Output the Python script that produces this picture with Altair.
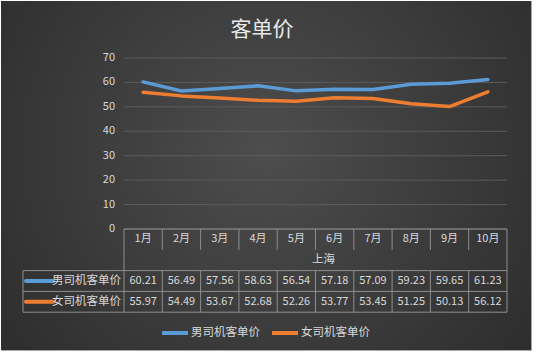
import altair as alt
import pandas as pd

# ---------------- data ----------------
title_text = "客单价"
region = "上海"
months = ["1月", "2月", "3月", "4月", "5月", "6月", "7月", "8月", "9月", "10月"]
series_names = ["男司机客单价", "女司机客单价"]
male = [60.21, 56.49, 57.56, 58.63, 56.54, 57.18, 57.09, 59.23, 59.65, 61.23]
female = [55.97, 54.49, 53.67, 52.68, 52.26, 53.77, 53.45, 51.25, 50.13, 56.12]
y_ticks = [0, 10, 20, 30, 40, 50, 60, 70]
colors = ["#5b9bd5", "#ed7d31"]

# ---------------- layout (pixels) ----------------
W, H = 530, 349
X0 = 123.0        # view x of the plot / table left edge
COL = 38.3        # width of one month column
LABEL_COL = 101.0 # width of the table's label column
Y0 = 228.0        # view y of value 0
PXU = 2.443       # pixels per value unit
ROW_PX = 20.8     # table row height

n = len(months)
x_dom = [-X0 / COL, (W - X0) / COL]
y_dom = [-(H - Y0) / PXU, Y0 / PXU]
row = ROW_PX / PXU
lab_left = -LABEL_COL / COL

FONT = "Noto Sans CJK SC"
TXT = "#d9d9d9"
BORDER = "#8e8e8e"

xs = alt.Scale(domain=x_dom, nice=False, zero=False)
ys = alt.Scale(domain=y_dom, nice=False, zero=False)
color_enc = alt.Color(
    "series:N",
    scale=alt.Scale(domain=series_names, range=colors),
    sort=series_names,
    legend=alt.Legend(
        title=None, orient="none", direction="horizontal",
        legendX=159, legendY=317, padding=0,
        symbolType="stroke", symbolSize=676, symbolStrokeWidth=4,
        labelFont=FONT, labelFontSize=11.5, labelColor=TXT,
        labelOffset=1, columnPadding=4, zindex=2,
    ),
)

# line data
rows = []
for s, vals in zip(series_names, [male, female]):
    for i, (m, v) in enumerate(zip(months, vals)):
        rows.append({"series": s, "month": m, "u": i + 0.5, "v": v})
lines_df = pd.DataFrame(rows)

# background panel spanning the scale domains
bg_df = pd.DataFrame({"u1": [x_dom[0]], "u2": [x_dom[1]], "v1": [y_dom[0]], "v2": [y_dom[1]]})

# gridlines and their labels
grid_df = pd.DataFrame({"v": y_ticks, "u1": 0, "u2": n, "t": [str(t) for t in y_ticks]})

# table borders
seg = []
seg.append({"u1": 0, "u2": n, "v1": 0, "v2": 0})
for k in (2, 3, 4):
    seg.append({"u1": lab_left, "u2": n, "v1": -k * row, "v2": -k * row})
seg.append({"u1": 0, "u2": 0, "v1": 0, "v2": -4 * row})
seg.append({"u1": n, "u2": n, "v1": 0, "v2": -4 * row})
seg.append({"u1": lab_left, "u2": lab_left, "v1": -2 * row, "v2": -4 * row})
for k in range(1, n):
    seg.append({"u1": k, "u2": k, "v1": 0, "v2": -row})
    seg.append({"u1": k, "u2": k, "v1": -2 * row, "v2": -4 * row})
seg_df = pd.DataFrame(seg)

# table texts
cells = []
for i, m in enumerate(months):
    cells.append({"u": i + 0.5, "v": -0.5 * row, "t": m})
for j, vals in enumerate([male, female]):
    for i, v in enumerate(vals):
        cells.append({"u": i + 0.5, "v": -(2.5 + j) * row, "t": f"{v:.2f}"})
cells_df = pd.DataFrame(cells)
region_df = pd.DataFrame({"u": [n / 2], "v": [-1.5 * row], "t": [region]})
lab_df = pd.DataFrame({
    "series": series_names,
    "u": [-0.08, -0.08],
    "v": [-2.5 * row, -3.5 * row],
    "s1": [-2.56, -2.56],
    "s2": [-1.85, -1.85],
})

base_x = dict(scale=xs, axis=None)

bg = alt.Chart(bg_df).mark_rect(
    color=alt.RadialGradient(
        gradient="radial", x1=0.5, y1=0.45, r1=0, x2=0.5, y2=0.45, r2=0.75,
        stops=[alt.GradientStop(offset=0, color="#4d4d4d"),
               alt.GradientStop(offset=1, color="#272727")],
    )
).encode(
    x=alt.X("u1:Q", **base_x), x2="u2:Q",
    y=alt.Y("v1:Q", scale=ys, axis=None), y2="v2:Q",
)

grid = alt.Chart(grid_df).mark_rule(color="#5c5c5c", strokeWidth=1).encode(
    x=alt.X("u1:Q", **base_x), x2="u2:Q",
    y=alt.Y("v:Q", scale=ys, axis=None),
)

grid_labels = alt.Chart(grid_df).mark_text(
    font=FONT, fontSize=11, color=TXT, align="right", baseline="middle", dx=-9
).encode(
    x=alt.X("u1:Q", **base_x),
    y=alt.Y("v:Q", scale=ys, axis=None),
    text="t:N",
)

table = alt.Chart(seg_df).mark_rule(color=BORDER, strokeWidth=1).encode(
    x=alt.X("u1:Q", **base_x), x2="u2:Q",
    y=alt.Y("v1:Q", scale=ys, axis=None), y2="v2:Q",
)

cell_text = alt.Chart(cells_df).mark_text(
    font=FONT, fontSize=11, color=TXT, align="center", baseline="middle"
).encode(x=alt.X("u:Q", **base_x), y=alt.Y("v:Q", scale=ys, axis=None), text="t:N")

region_text = alt.Chart(region_df).mark_text(
    font=FONT, fontSize=11.5, color=TXT, align="center", baseline="middle", dx=8
).encode(x=alt.X("u:Q", **base_x), y=alt.Y("v:Q", scale=ys, axis=None), text="t:N")

lab_sym = alt.Chart(lab_df).mark_rule(strokeWidth=4, strokeCap="round").encode(
    x=alt.X("s1:Q", **base_x), x2="s2:Q",
    y=alt.Y("v:Q", scale=ys, axis=None), color=color_enc,
)
lab_text = alt.Chart(lab_df).mark_text(
    font=FONT, fontSize=11.5, color=TXT, align="right", baseline="middle"
).encode(x=alt.X("u:Q", **base_x), y=alt.Y("v:Q", scale=ys, axis=None), text="series:N")

lines = alt.Chart(lines_df).mark_line(
    strokeWidth=3.5, strokeCap="round", strokeJoin="round"
).encode(
    x=alt.X("u:Q", **base_x),
    y=alt.Y("v:Q", scale=ys, axis=None),
    color=color_enc,
    order="u:Q",
)

chart = alt.layer(bg, grid, grid_labels, table, cell_text, region_text,
                  lab_sym, lab_text, lines).properties(
    width=W, height=H,
    autosize=alt.AutoSizeParams(type="none"),
    padding={"left": 1, "top": 1, "right": 5, "bottom": 3},
    background="#ffffff",
    title=alt.TitleParams(
        title_text, anchor="middle", offset=-39, fontSize=21, font=FONT,
        fontWeight="normal", color="#e8e8e8", dx=-4,
    ),
).configure_view(
    stroke="#a6a6a6", strokeWidth=1,
)

chart.save("out.html", embed_options={"renderer": "svg", "actions": False})
